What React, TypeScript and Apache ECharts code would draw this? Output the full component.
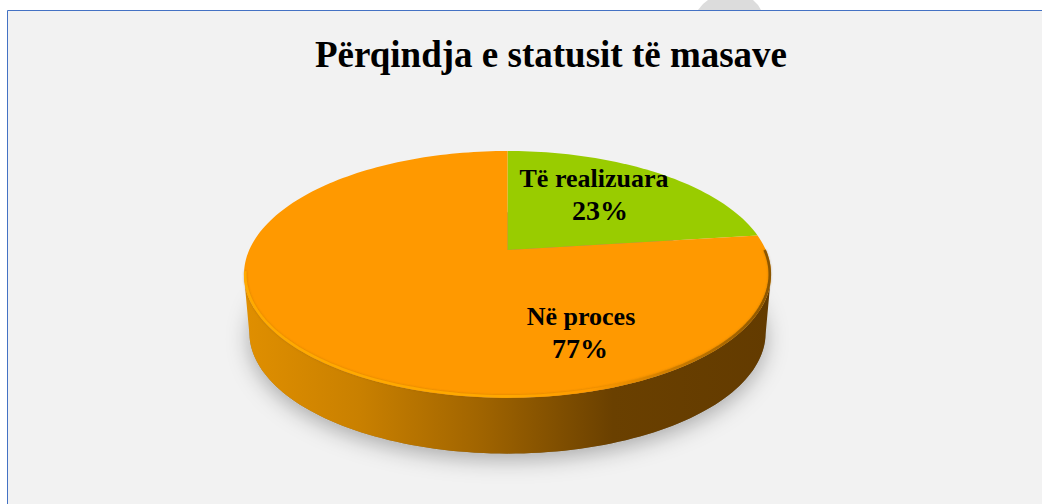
import React, { useEffect, useRef } from "react";
import * as echarts from "echarts";

const titleText = "Përqindja e statusit të masave";
const categories = ["Të realizuara", "Në proces"];
const values = [23, 77];
const sliceColors = ["#99CC00", "#FF9900"];
const nameCentres = [
  [594, 178],
  [581, 316],
];
const percentCentres = [
  [600, 210],
  [580, 348],
];

const FONT = '"Liberation Serif", "Times New Roman", serif';

// perspective disc: projective map of the unit circle
const CX = 507.5;
const K = 0.198;
const TOP = { cy: 250, a: 118.6, b: 258.3 };
const BOTTOM = { cy: 309, a: 116, b: 253 };

type Disc = { cy: number; a: number; b: number };
const project = (deg: number, d: Disc): [number, number] => {
  const t = (deg * Math.PI) / 180;
  const u = Math.sin(t);
  const v = Math.cos(t);
  const w = 1 + K * v;
  return [CX + (d.b * u) / w, d.cy - (d.a * v) / w];
};
const arc = (from: number, to: number, d: Disc): number[][] => {
  const n = Math.max(2, Math.ceil(Math.abs(to - from) / 1.5));
  const pts: number[][] = [];
  for (let i = 0; i <= n; i++) pts.push(project(from + ((to - from) * i) / n, d));
  return pts;
};

const renderDisc = (params: any, api: any) => {
  if (params.dataIndex !== 0) return undefined;
  const total = values.reduce((s, x) => s + x, 0);
  const children: any[] = [];
  const ring = arc(0, 360, TOP);
  let li = 0,
    ri = 0;
  ring.forEach((p, i) => {
    if (p[0] < ring[li][0]) li = i;
    if (p[0] > ring[ri][0]) ri = i;
  });
  const rightDeg = (ri / (ring.length - 1)) * 360;
  const leftDeg = (li / (ring.length - 1)) * 360;
  const wallGrad = new echarts.graphic.LinearGradient(0, 0, 1, 0, [
    { offset: 0, color: "#E08F00" },
    { offset: 0.22, color: "#C98000" },
    { offset: 0.45, color: "#A06400" },
    { offset: 0.7, color: "#6A4000" },
    { offset: 1, color: "#633B00" },
  ]);
  const topFront = arc(rightDeg, leftDeg, TOP);
  const botFront = arc(leftDeg, rightDeg, BOTTOM);
  // soft shadow
  children.push({
    type: "polygon",
    shape: { points: arc(0, 360, BOTTOM) },
    style: { fill: "#8A8A8A", shadowBlur: 22, shadowColor: "rgba(0,0,0,0.3)", shadowOffsetY: 6 },
  });
  children.push({
    type: "polygon",
    shape: { points: [...topFront, ...botFront] },
    style: { fill: wallGrad },
  });
  // slices
  let start = 0;
  values.forEach((val, i) => {
    const end = start + (val / total) * 360;
    const pts = [[CX, TOP.cy], ...arc(start, end, TOP)];
    children.push({ type: "polygon", shape: { points: pts }, style: { fill: sliceColors[i] } });
    start = end;
  });
  // bevel just inside the front edge of the top face
  children.push({
    type: "polyline",
    shape: { points: arc(rightDeg - 12, leftDeg + 2, { cy: TOP.cy, a: TOP.a - 1.2, b: TOP.b - 1.2 }) },
    style: {
      fill: "none",
      lineWidth: 2.6,
      stroke: new echarts.graphic.LinearGradient(0, 0, 1, 0, [
        { offset: 0, color: "#FFAA00" },
        { offset: 0.5, color: "#FFA800" },
        { offset: 0.66, color: "#FF9A00" },
        { offset: 0.88, color: "#B87000" },
        { offset: 1, color: "#8A5500" },
      ]),
      shadowBlur: 2,
      shadowColor: "rgba(120,70,0,0.35)",
    },
  });
  // labels
  values.forEach((val, i) => {
    children.push({
      type: "text",
      style: {
        x: nameCentres[i][0],
        y: nameCentres[i][1],
        text: categories[i],
        fill: "#000",
        font: `bold 26px ${FONT}`,
        align: "center",
        verticalAlign: "middle",
      },
    });
    children.push({
      type: "text",
      style: {
        x: percentCentres[i][0],
        y: percentCentres[i][1],
        text: `${Math.round((val / total) * 100)}%`,
        fill: "#000",
        font: `bold 28px ${FONT}`,
        align: "center",
        verticalAlign: "middle",
      },
    });
  });
  return { type: "group", children };
};

export default function App() {
  const ref = useRef<HTMLDivElement>(null);
  useEffect(() => {
    document.body.style.margin = "0";
    document.body.style.background = "#fff";
    const chart = echarts.init(ref.current!, undefined, { renderer: "svg" });
    chart.setOption({
      animation: false,
      backgroundColor: "#FFFFFF",
      title: {
        text: titleText,
        left: 546,
        top: 31,
        textAlign: "center",
        textStyle: { fontFamily: FONT, fontSize: 37, fontWeight: "bold", color: "#000" },
      },
      graphic: [
        {
          type: "polygon",
          z: -10,
          shape: { points: [[698, 10], [703, 4], [708, 0], [753, 0], [758, 5], [761, 10]] },
          style: { fill: "#DCDCDC" },
        },
        {
          type: "rect",
          z: -9,
          shape: { x: 7.5, y: 10.5, width: 1040, height: 500 },
          style: { fill: "#F2F2F2", stroke: "#4472C4", lineWidth: 1 },
        },
      ],
      xAxis: { show: false, type: "value" },
      yAxis: { show: false, type: "value" },
      grid: { left: 0, right: 0, top: 0, bottom: 0 },
      series: [
        {
          type: "custom",
          coordinateSystem: "none",
          clip: false,
          data: values.map((v, i) => ({ name: categories[i], value: v })),
          renderItem: renderDisc,
        },
      ],
    });
    return () => chart.dispose();
  }, []);
  return <div ref={ref} style={{ width: 1042, height: 504 }} />;
}
